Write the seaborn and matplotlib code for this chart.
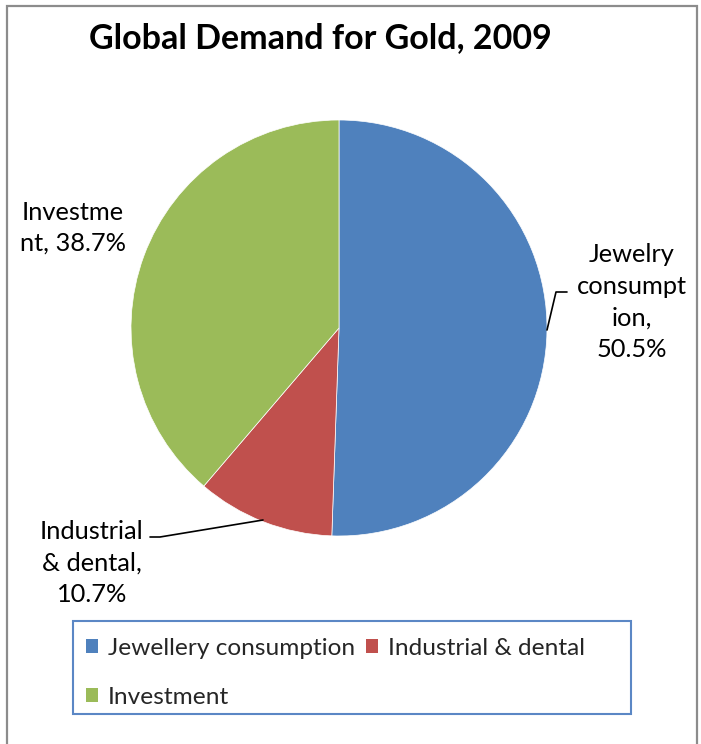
import matplotlib
matplotlib.use("Agg")
import matplotlib.pyplot as plt
import seaborn as sns
from matplotlib.patches import Rectangle, Patch

# ---- data ----
categories = ["Jewellery consumption", "Industrial & dental", "Investment"]
values = [50.5, 10.7, 38.7]
slice_labels = ["Jewelry\nconsumpt\nion,\n50.5%", "Industrial\n& dental,\n10.7%", "Investme\nnt, 38.7%"]
colors = ["#4F81BD", "#C0504D", "#9BBB59"]
title = "Global Demand for Gold, 2009"

sns.set_theme(style="white")
plt.rcParams["font.family"] = ["Lato", "DejaVu Sans"]

W, H = 701, 744
fig = plt.figure(figsize=(W / 100, H / 100), dpi=100)
ax = fig.add_axes([0, 0, 1, 1])


def Y(py):
    return H - py


ax.pie(values, colors=colors, startangle=90, counterclock=False,
       center=(339, Y(328)), radius=208,
       wedgeprops=dict(linewidth=0.5, edgecolor="white"), frame=True)
ax.set_xlim(0, W)
ax.set_ylim(0, H)
ax.set_aspect("equal")
ax.axis("off")

# outer border
fig.add_artist(Rectangle((7 / W, -0.05), (697 - 7) / W, (H - 6) / H + 0.05,
                         transform=fig.transFigure, fill=False,
                         edgecolor="#8c8c8c", linewidth=1.6))

# title
ax.text(320, Y(38), title, ha="center", va="center", fontsize=24.5,
        fontweight="bold", color="black")

# slice labels
lab_fs = 18.3
ax.text(632, Y(302), slice_labels[0], ha="center", va="center",
        fontsize=lab_fs, linespacing=1.45, color="black")
ax.text(92, Y(563), slice_labels[1], ha="center", va="center",
        fontsize=lab_fs, linespacing=1.45, color="black")
ax.text(73, Y(228), slice_labels[2], ha="center", va="center",
        fontsize=lab_fs, linespacing=1.38, color="black")

# leader lines
ax.plot([547, 556, 567], [Y(330), Y(292), Y(292)], color="black", lw=1.2)
ax.plot([263, 160, 150], [Y(520), Y(537), Y(537)], color="black", lw=1.2)

# legend box
ax.add_patch(Rectangle((73, Y(714)), 631 - 73, 714 - 621, fill=False,
                       edgecolor="#5B87C5", linewidth=1.5))
handles = [Patch(facecolor=c, edgecolor="none") for c in colors]
order = [0, 2, 1]
leg = ax.legend([handles[i] for i in order], [categories[i] for i in order],
                ncol=2, loc="upper left", frameon=False,
                bbox_to_anchor=(66 / W, 1 - 618 / H), bbox_transform=fig.transFigure,
                fontsize=17.6, handlelength=0.5, handleheight=0.5,
                handletextpad=0.4, columnspacing=0.45, labelspacing=1.15,
                borderpad=0.3)

fig.savefig("out.png", dpi=100, facecolor="white")
